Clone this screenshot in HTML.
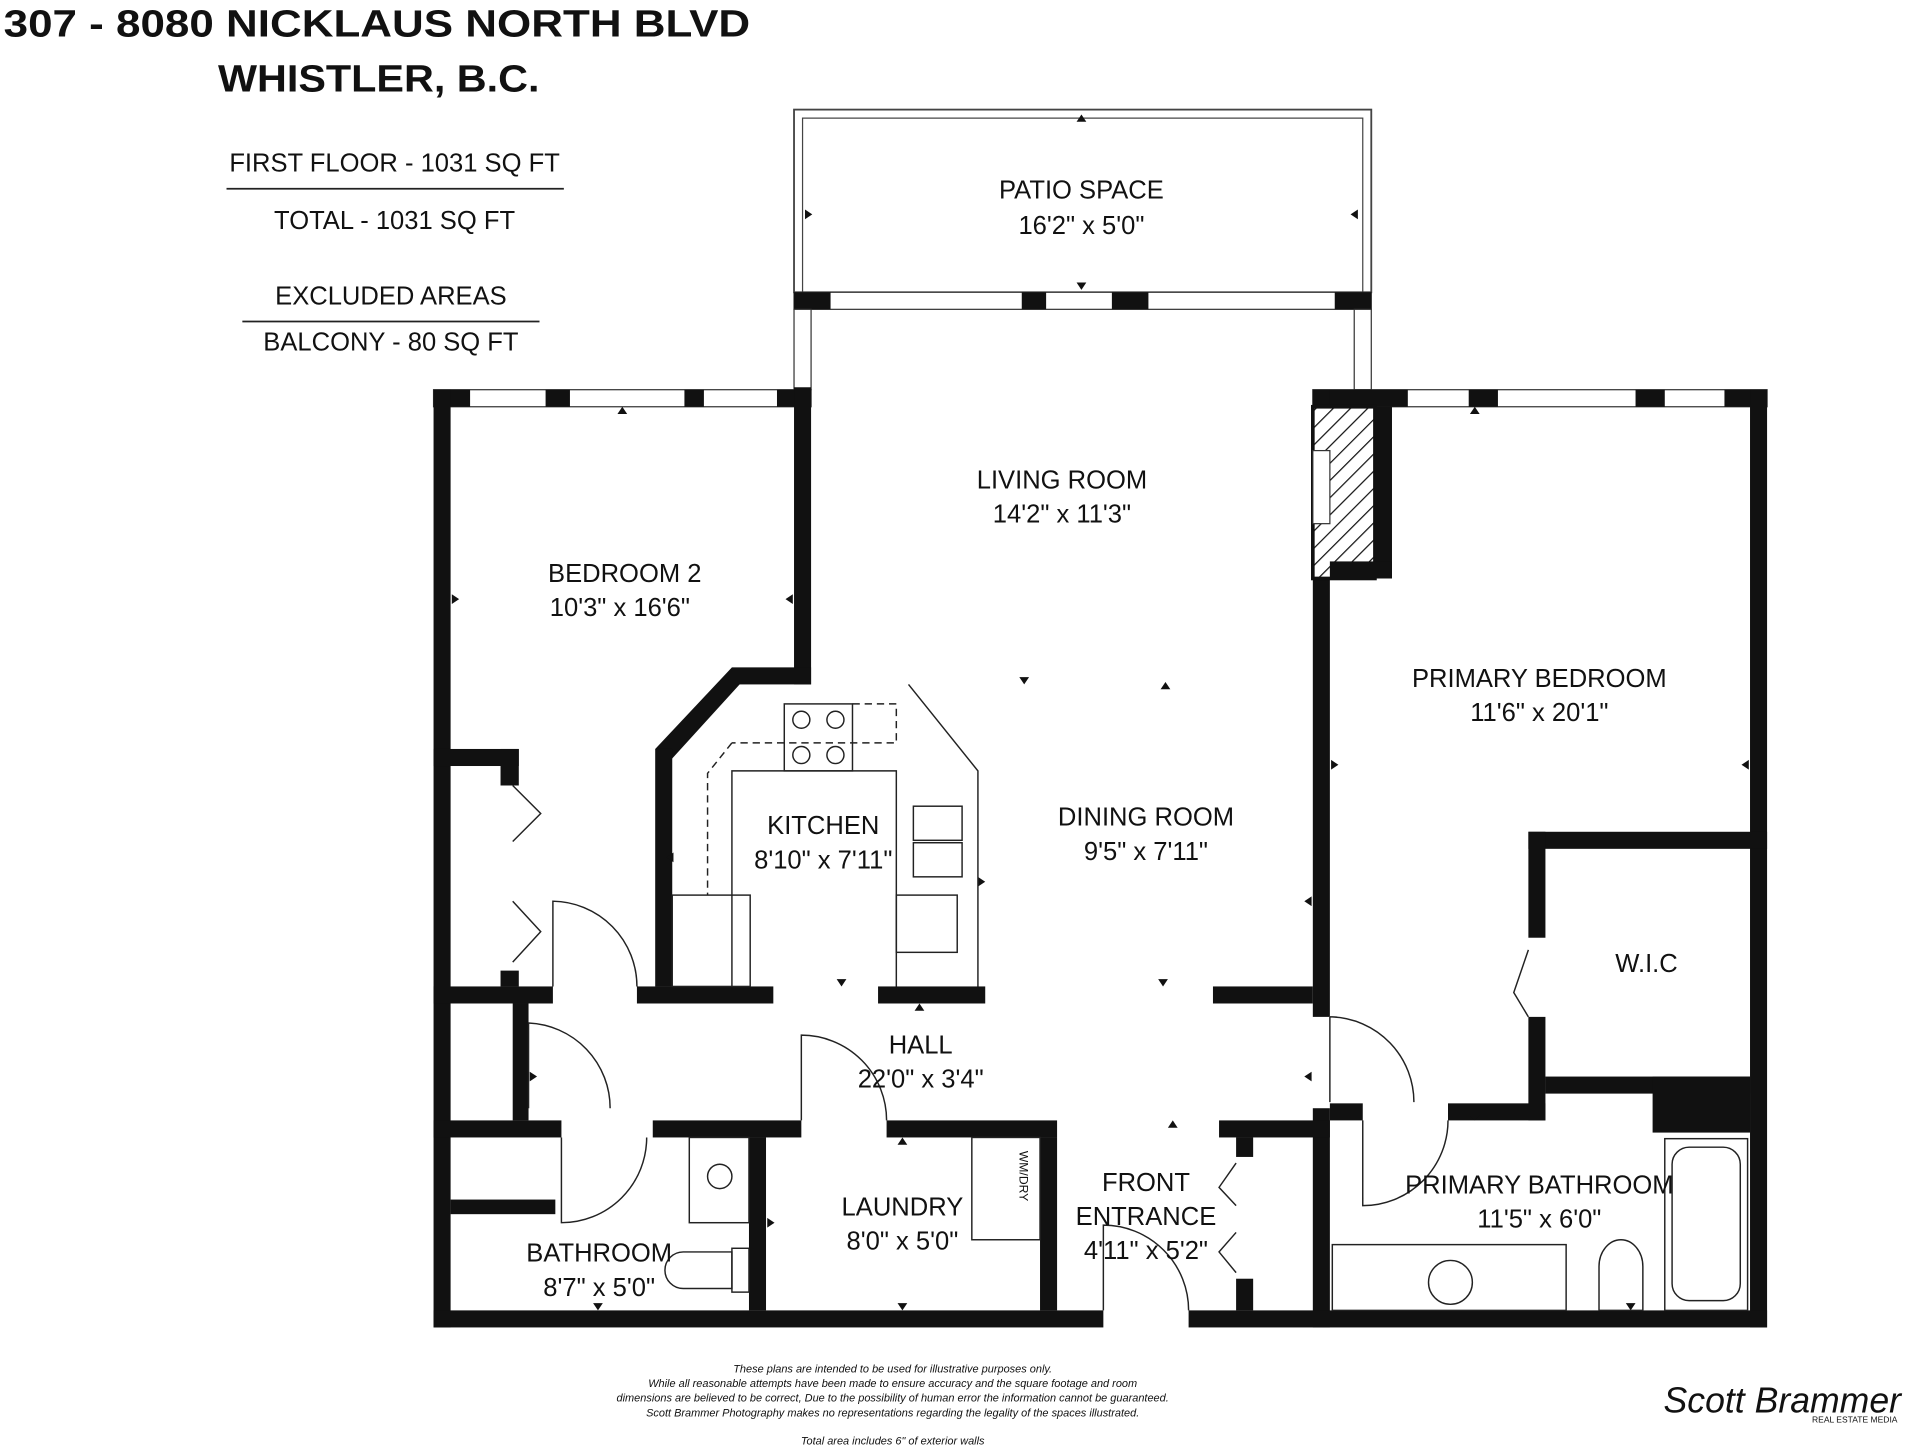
<!DOCTYPE html>
<html><head><meta charset="utf-8"><style>
html,body{margin:0;padding:0;background:#fff}
svg{display:block}
text{font-family:"Liberation Sans",Arial,sans-serif;fill:#111}
</style></head><body>
<svg width="1912" height="1448" viewBox="0 0 1568 1189" xmlns="http://www.w3.org/2000/svg">
<rect width="1568" height="1189" fill="#fff"/>
<text x="2" y="30" font-size="31" font-weight="bold" textLength="613" lengthAdjust="spacingAndGlyphs">307 - 8080 NICKLAUS NORTH BLVD</text>
<text x="178" y="75" font-size="31" font-weight="bold" textLength="264" lengthAdjust="spacingAndGlyphs">WHISTLER, B.C.</text>
<text x="323" y="141" font-size="21" text-anchor="middle">FIRST FLOOR - 1031 SQ FT</text>
<line x1="185" y1="155" x2="462" y2="155" stroke="#222" stroke-width="1.5"/>
<text x="323" y="188" font-size="21" text-anchor="middle">TOTAL  -  1031 SQ FT</text>
<text x="320" y="250" font-size="21" text-anchor="middle">EXCLUDED AREAS</text>
<line x1="198" y1="264" x2="442" y2="264" stroke="#222" stroke-width="1.5"/>
<text x="320" y="288" font-size="21" text-anchor="middle">BALCONY - 80 SQ FT</text>

<rect x="651" y="90" width="474" height="150" fill="none" stroke="#444" stroke-width="1.5"/>
<rect x="658" y="97" width="460" height="143" fill="none" stroke="#444" stroke-width="1"/>

<g fill="#111">
<rect x="651" y="240" width="474" height="14" fill="#fff" stroke="#333"/>
<rect x="651" y="240" width="30" height="14"/><rect x="838" y="240" width="20" height="14"/><rect x="912" y="240" width="30" height="14"/><rect x="1095" y="240" width="30" height="14"/>
<rect x="651" y="254" width="14" height="66" fill="#fff" stroke="#333"/>
<rect x="1111" y="254" width="14" height="66" fill="#fff" stroke="#333"/>
<rect x="355" y="320" width="310" height="14" fill="#fff" stroke="#333"/>
<rect x="355" y="320" width="30" height="14"/><rect x="447" y="320" width="20" height="14"/><rect x="561" y="320" width="16" height="14"/><rect x="637" y="320" width="28" height="14"/>
<rect x="1077" y="320" width="373" height="14" fill="#fff" stroke="#333"/>
<rect x="1077" y="320" width="78" height="14"/><rect x="1205" y="320" width="24" height="14"/><rect x="1342" y="320" width="24" height="14"/><rect x="1415" y="320" width="35" height="14"/>
<rect x="355" y="320" width="14" height="770"/>
<rect x="651" y="318" width="14" height="244"/>
<rect x="600" y="548" width="65" height="14"/>
<polygon points="600,548 610,558 549,625 537,615"/>
<rect x="537" y="615" width="14" height="195"/>
<rect x="1436" y="320" width="14" height="770"/>
<rect x="1077" y="320" width="14" height="515"/>
<rect x="1077" y="910" width="14" height="180"/>
<rect x="355" y="1076" width="550" height="14"/>
<rect x="975" y="1076" width="475" height="14"/>
<rect x="1077" y="334" width="51" height="141" fill="url(#h)" stroke="#111" stroke-width="3"/>
<rect x="1128" y="334" width="14" height="141"/>
<rect x="1091" y="461" width="51" height="14"/>
<rect x="1077" y="370" width="14" height="60" fill="#fff" stroke="#333"/>
<rect x="1254" y="683" width="196" height="14"/>
<rect x="1254" y="683" width="14" height="87"/>
<rect x="1254" y="835" width="14" height="85"/>
<rect x="1268" y="884" width="168" height="14"/>
<rect x="1356" y="884" width="80" height="46"/>
<rect x="1091" y="906" width="27" height="14"/><rect x="1188" y="906" width="80" height="14"/>
<rect x="355" y="810" width="98" height="14"/>
<rect x="522" y="810" width="112" height="14"/>
<rect x="720" y="810" width="88" height="14"/>
<rect x="995" y="810" width="82" height="14"/>
<rect x="355" y="615" width="70" height="14"/>
<rect x="410" y="615" width="15" height="30"/>
<rect x="410" y="797" width="15" height="13"/>
<rect x="355" y="920" width="105" height="14"/>
<rect x="535" y="920" width="122" height="14"/>
<rect x="727" y="920" width="140" height="14"/>
<rect x="1000" y="920" width="91" height="14"/>
<rect x="420" y="824" width="13" height="96"/>
<rect x="369" y="985" width="86" height="12"/>
<rect x="614" y="934" width="14" height="142"/>
<rect x="853" y="934" width="14" height="142"/>
<rect x="1014" y="934" width="14" height="16"/>
<rect x="1014" y="1050" width="14" height="26"/>
</g>
<defs><pattern id="h" width="10" height="10" patternUnits="userSpaceOnUse" patternTransform="rotate(45)"><rect width="10" height="10" fill="#fff"/><line x1="0" y1="0" x2="0" y2="10" stroke="#111" stroke-width="2"/></pattern></defs>

<!-- small markers -->
<g fill="#111">
<polygon points="883,100 891,100 887,94"/><polygon points="883,232 891,232 887,238"/>
<polygon points="660,172 660,180 666,176"/><polygon points="1114,172 1114,180 1108,176"/>
<polygon points="506,340 514,340 510,334"/><polygon points="370,488 370,496 376,492"/><polygon points="650,488 650,496 644,492"/>
<polygon points="836,556 844,556 840,562"/><polygon points="952,566 960,566 956,560"/>
<polygon points="1092,624 1092,632 1098,628"/><polygon points="1435,624 1435,632 1429,628"/><polygon points="1206,340 1214,340 1210,334"/>
<polygon points="1076,736 1076,744 1070,740"/><polygon points="552,700 552,708 546,704"/><polygon points="802,720 802,728 808,724"/>
<polygon points="686,804 694,804 690,810"/><polygon points="950,804 958,804 954,810"/><polygon points="750,830 758,830 754,824"/>
<polygon points="434,880 434,888 440,884"/><polygon points="1076,880 1076,888 1070,884"/>
<polygon points="958,926 966,926 962,920"/><polygon points="1206,916 1214,916 1210,920"/>
<polygon points="736,940 744,940 740,934"/><polygon points="736,1070 744,1070 740,1076"/><polygon points="629,1000 629,1008 635,1004"/>
<polygon points="486,1070 494,1070 490,1076"/><polygon points="1334,1070 1342,1070 1338,1076"/>
</g>

<g fill="none" stroke="#222" stroke-width="1.2">
<path d="M453,810 V740 A70,70 0 0 1 522,810"/>
<path d="M433,910 V840 A70,70 0 0 1 500,910"/>
<path d="M657,920 V850 A70,70 0 0 1 727,920"/>
<path d="M1091,835 H1093 A70,70 0 0 1 1160,905"/><line x1="1091" y1="835" x2="1091" y2="905"/>
<path d="M1118,920 V990 A70,70 0 0 0 1188,920"/>
<path d="M460,934 V1004 A70,70 0 0 0 530,934"/>
<path d="M975,1076 A70,70 0 0 0 905,1006 V1076"/>
<polyline points="420,645 443,668 420,691"/><polyline points="420,740 443,765 420,790"/>
<polyline points="1254,780 1242,815 1254,835"/>
<polyline points="1014,955 1000,975 1014,990"/><polyline points="1014,1012 1000,1028 1014,1045"/>
<rect x="643" y="578" width="56" height="55"/>
<circle cx="657" cy="591" r="7"/><circle cx="685" cy="591" r="7"/><circle cx="657" cy="620" r="7"/><circle cx="685" cy="620" r="7"/>
<polyline points="600,810 600,633 735,633 735,810"/>
<polyline points="745,562 802,633 802,810"/>
<path d="M699,578 H735 V610 H600 M600,610 L580,635 V735" stroke-dasharray="6,4"/>
<rect x="749" y="662" width="40" height="28"/><rect x="749" y="692" width="40" height="28"/>
<rect x="551" y="735" width="64" height="75"/><rect x="735" y="735" width="50" height="47"/>
<rect x="565" y="934" width="49" height="70"/><circle cx="590" cy="966" r="10"/>
<path d="M560,1028 h40 v30 h-40 a15,15 0 0 1 0,-30z"/><rect x="600" y="1025" width="14" height="36"/>
<rect x="1093" y="1022" width="192" height="54"/><circle cx="1190" cy="1053" r="18"/>
<path d="M1312,1040 a18,22 0 0 1 36,0 v36 h-36z"/>
<rect x="1366" y="935" width="68" height="141"/><rect x="1372" y="942" width="56" height="126" rx="14"/>
<rect x="797" y="934" width="56" height="84"/>
</g>

<g font-size="21" text-anchor="middle">
<text x="887" y="163">PATIO SPACE</text><text x="887" y="192">16'2" x 5'0"</text>
<text x="871" y="401">LIVING ROOM</text><text x="871" y="429">14'2" x 11'3"</text>
<text x="512" y="478">BEDROOM 2</text><text x="508" y="506">10'3" x 16'6"</text>
<text x="1263" y="564">PRIMARY BEDROOM</text><text x="1263" y="592">11'6" x 20'1"</text>
<text x="675" y="685">KITCHEN</text><text x="675" y="713">8'10" x 7'11"</text>
<text x="940" y="678">DINING ROOM</text><text x="940" y="706">9'5" x 7'11"</text>
<text x="1351" y="798">W.I.C</text>
<text x="755" y="865">HALL</text><text x="755" y="893">22'0" x 3'4"</text>
<text x="940" y="978">FRONT</text><text x="940" y="1006">ENTRANCE</text><text x="940" y="1034">4'11" x 5'2"</text>
<text x="740" y="998">LAUNDRY</text><text x="740" y="1026">8'0" x 5'0"</text>
<text x="491" y="1036">BATHROOM</text><text x="491" y="1064">8'7" x 5'0"</text>
<text x="1263" y="980">PRIMARY BATHROOM</text><text x="1263" y="1008">11'5" x 6'0"</text>
</g>
<text x="836" y="945" font-size="10" transform="rotate(90 836 945)">WM/DRY</text>
<g font-size="9" font-style="italic" text-anchor="middle" fill="#333">
<text x="732" y="1127">These plans are intended to be used for illustrative purposes only.</text>
<text x="732" y="1139">While all reasonable attempts have been made to ensure accuracy and the square footage and room</text>
<text x="732" y="1151">dimensions are believed to be correct,  Due to the possibility of human error the information cannot be guaranteed.</text>
<text x="732" y="1163">Scott Brammer Photography makes no representations regarding the legality of the spaces illustrated.</text>
<text x="732" y="1186">Total area includes 6" of exterior walls</text>
</g>
<text x="1365" y="1160" font-size="30" font-style="italic" font-family="Liberation Serif,serif" textLength="195" lengthAdjust="spacingAndGlyphs">Scott Brammer</text>
<text x="1522" y="1168" font-size="7" text-anchor="middle">REAL ESTATE MEDIA</text>
</svg>
</body></html>
